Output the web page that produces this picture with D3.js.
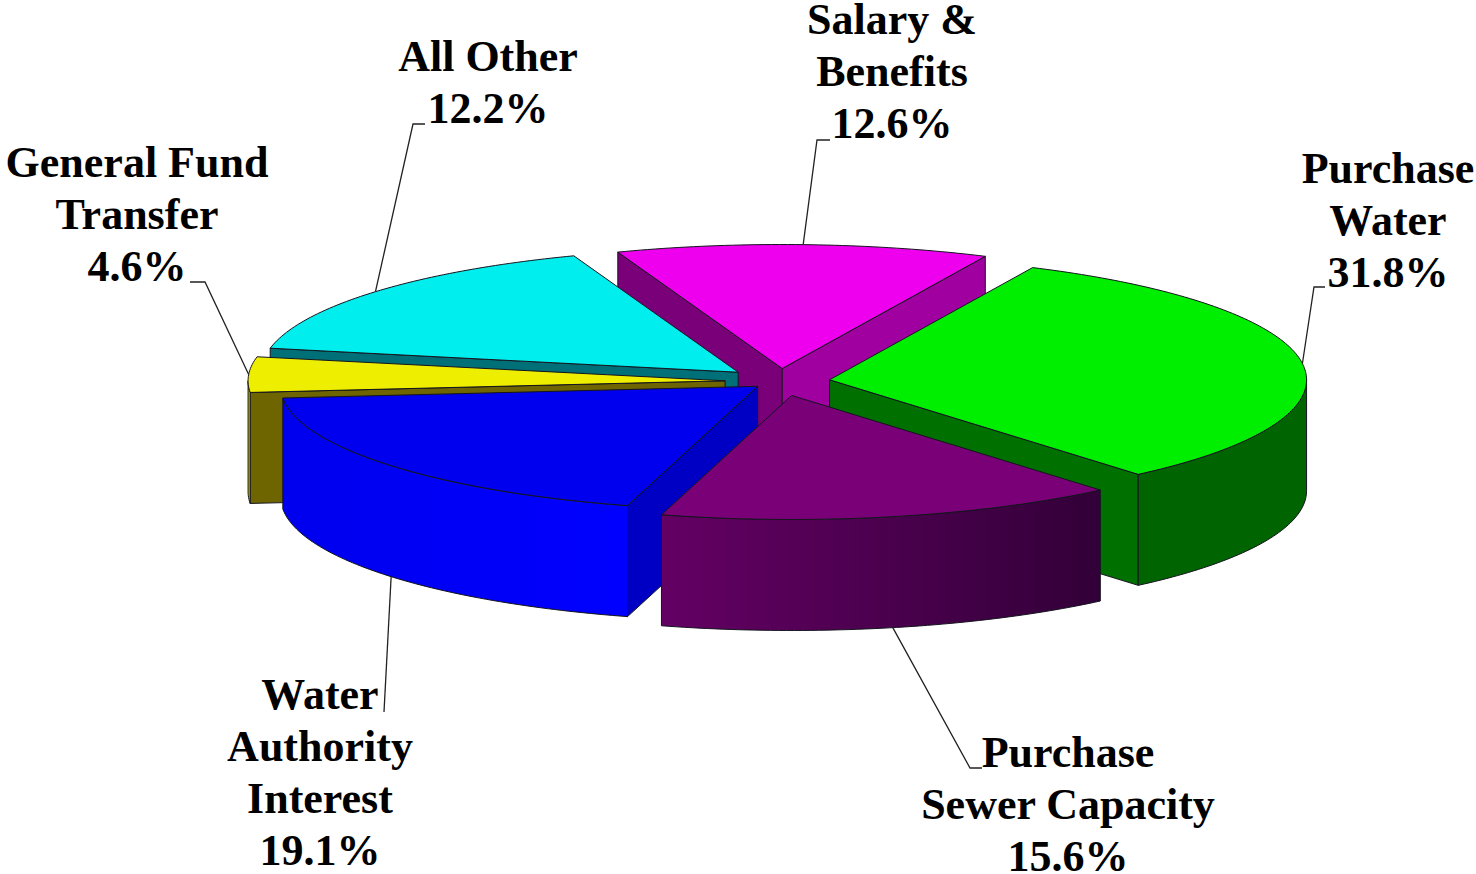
<!DOCTYPE html>
<html>
<head>
<meta charset="utf-8">
<script src="https://cdnjs.cloudflare.com/ajax/libs/d3/7.8.5/d3.min.js"></script>
<style>
  html, body { margin: 0; padding: 0; background: #fff; }
  svg { display: block; }
</style>
</head>
<body>
<svg width="1476" height="874"></svg>
<script>
// slices clockwise from Purchase Water
const categories = ["Purchase Water", "Purchase Sewer Capacity", "Water Authority Interest", "General Fund Transfer", "All Other", "Salary & Benefits"];
const percentLabels = ["31.8%", "15.6%", "19.1%", "4.6%", "12.2%", "12.6%"];
// drawn sweep of each slice, the picture gives All Other more than its label says
const sweepValues = [31.8, 15.6, 19.1, 4.6, 16.3, 12.6];
const explode = [50, 55, 29, 55, 55, 50];

const topColors = ["#00ee00", "#7a0078", "#0000ee", "#eeee00", "#00eeee", "#ee00ee"];
const startWallColors = ["#007000", "#660066", "#0000c4", "#6e6400", "#007078", "#7a007a"];
const endWallColors = ["#007000", "#660066", "#0000c4", "#6e6400", "#007078", "#a000a0"];
const rimLeft = ["#006400", "#640064", "#0000ee", "#c8c000", "#007078", "#7a007a"];
const rimRight = ["#006400", "#320038", "#0000ff", "#c8c000", "#007078", "#7a007a"];

// label lines, the last line of each is the percent label
const nameLines = [
    ["Purchase", "Water"],
    ["Purchase", "Sewer Capacity"],
    ["Water", "Authority", "Interest"],
    ["General Fund", "Transfer"],
    ["All Other"],
    ["Salary &", "Benefits"]
];
const labelX = [1388, 1068, 320, 137, 488, 892];
const labelY = [183, 767, 709, 177, 71, 34];
const leaderElbows = [
    [[1314, 287], [1325, 287]],
    [[970, 768], [982, 768]],
    [[384, 712]],
    [[205, 282], [190, 282]],
    [[413, 124], [425, 124]],
    [[817, 140], [830, 140]]
];
// back to front
const drawOrder = [5, 4, 3, 2, 0, 1];

const svg = d3.select("svg");
const cx = 780, cy = 381.5, rx = 477, ry = 124, depth = 111;
const lineGap = 52;
const startAngle = 25.2 * Math.PI / 180;

const pie = d3.pie().sort(null).startAngle(startAngle).endAngle(startAngle + 2 * Math.PI);
const arcs = pie(sweepValues);
const line = d3.line();

// tilted pie: x from the sine, y from the cosine
const sx = d3.scaleLinear().domain([-1, 1]).range([-rx, rx]);
const sy = d3.scaleLinear().domain([-1, 1]).range([ry, -ry]);

function apex(i) {
    const mid = (arcs[i].startAngle + arcs[i].endAngle) / 2;
    return [cx + explode[i] * Math.sin(mid), cy - explode[i] * Math.cos(mid) * ry / rx];
}

function rimPoint(i, a, drop) {
    const p = apex(i);
    return [p[0] + sx(Math.sin(a)), p[1] + sy(Math.cos(a)) + (drop || 0)];
}

function rimRange(i, a0, a1, drop) {
    const n = Math.max(2, Math.ceil((a1 - a0) * 60));
    return d3.range(n + 1).map(k => rimPoint(i, a0 + (a1 - a0) * k / n, drop));
}

const defs = svg.append("defs");
rimLeft.forEach((c, i) => {
    const g = defs.append("linearGradient").attr("id", "rim" + i);
    g.append("stop").attr("offset", "0%").attr("stop-color", c);
    g.append("stop").attr("offset", "100%").attr("stop-color", rimRight[i]);
});

const edge = { stroke: "#14141e", width: 1 };

function face(g, pts, fill) {
    g.append("path")
        .attr("d", line(pts) + "Z")
        .attr("fill", fill)
        .attr("stroke", edge.stroke)
        .attr("stroke-width", edge.width)
        .attr("stroke-linejoin", "round");
}

function radialWall(g, i, a, fill) {
    const p = apex(i), q = rimPoint(i, a), q2 = rimPoint(i, a, depth);
    face(g, [p, q, q2, [p[0], p[1] + depth]], fill);
}

drawOrder.forEach(i => {
    const d = arcs[i];
    const g = svg.append("g").attr("class", "slice").datum(d);

    // only walls turned toward the viewer
    if (Math.sin(d.startAngle) < 0) radialWall(g, i, d.startAngle, startWallColors[i]);
    if (Math.sin(d.endAngle) > 0) radialWall(g, i, d.endAngle, endWallColors[i]);

    // front part of the rim
    const a0 = Math.max(d.startAngle, Math.PI / 2), a1 = Math.min(d.endAngle, 3 * Math.PI / 2);
    if (a1 > a0) {
        face(g, rimRange(i, a0, a1).concat(rimRange(i, a0, a1, depth).reverse()), "url(#rim" + i + ")");
    }

    face(g, [apex(i)].concat(rimRange(i, d.startAngle, d.endAngle)), topColors[i]);
});

// leader lines start at the middle of each slice rim
arcs.forEach((d, i) => {
    const mid = (d.startAngle + d.endAngle) / 2;
    const front = Math.cos(mid) < 0;
    svg.append("path")
        .attr("class", "leader")
        .attr("d", line([rimPoint(i, mid, front ? depth : 0)].concat(leaderElbows[i])))
        .attr("fill", "none")
        .attr("stroke", "#222")
        .attr("stroke-width", 1.3);
});

categories.forEach((name, i) => {
    const t = svg.append("text")
        .attr("class", "label")
        .attr("text-anchor", "middle")
        .attr("font-family", "'Liberation Serif', serif")
        .attr("font-weight", "bold")
        .attr("font-size", 44)
        .attr("fill", "#000");
    t.selectAll("tspan")
        .data(nameLines[i].concat(percentLabels[i]))
        .enter().append("tspan")
        .attr("x", labelX[i])
        .attr("y", (s, k) => labelY[i] + k * lineGap)
        .text(s => s);
});
</script>
</body>
</html>
